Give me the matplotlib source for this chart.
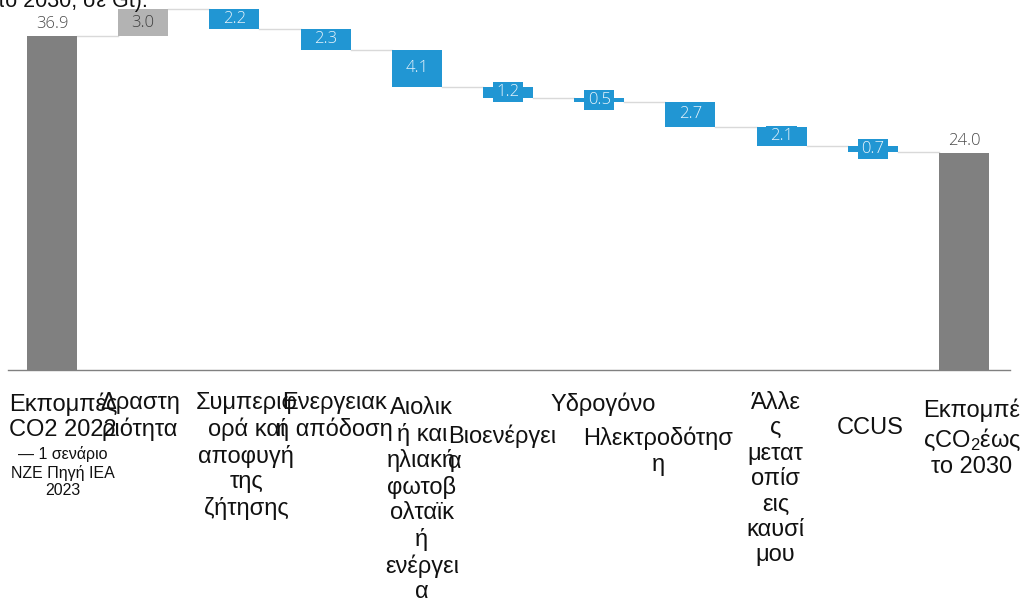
import matplotlib as mpl
import matplotlib.pyplot as plt
from matplotlib.patches import Rectangle
import numpy as np

mpl.rcParams.update({
    "font.family": ["Liberation Sans", "DejaVu Sans"],
    "mathtext.fontset": "custom",
    "mathtext.rm": "Liberation Sans",
    "mathtext.it": "Liberation Sans",
})

# waterfall data (Gt CO2)
labels = [
    "Εκπομπές\nCO2 2022", "Δραστη\nριότητα", "Συμπεριφ\nορά και\nαποφυγή\nτης\nζήτησης",
    "Ενεργειακ\nή απόδοση", "Αιολικ\nή και\nηλιακή\nφωτοβ\nολταϊκ\nή\nενέργει\nα",
    "Βιοενέργει\nα", "Υδρογόνο", "Ηλεκτροδότησ\nη",
    "Άλλε\nς\nμετατ\nοπίσ\nεις\nκαυσί\nμου", "CCUS", "Εκπομπέ\nςCO$_2$έως\nτο 2030",
]
start_value = 36.9
changes = [3.0, -2.2, -2.3, -4.1, -1.2, -0.5, -2.7, -2.1, -0.7]
end_value = 24.0
source_note = "— 1 σενάριο\nNZE Πηγή IEA\n2023"

# label layout: (x offset px, top offset px below baseline, multialignment)
label_layout = [(11, -22, "center"), (-3, -22, "center"), (12, -22, "center"),
                (9, -22, "center"), (5, -27, "center"), (-6, -54, "left"),
                (4, -22, "center"), (-32, -57, "center"), (-6, -22, "center"),
                (-3, -47, "center"), (8, -29, "center")]

BLUE = "#2196D3"
DARK = "#808080"
LIGHT = "#B3B3B3"

fig = plt.figure(figsize=(10.24, 6.10), dpi=100)
ax = fig.add_axes([8 / 1024, 240 / 610, 1002 / 1024, 370 / 610])
ax.set_xlim(-0.482, 10.505)
ax.set_ylim(0, 40.9)

n = len(labels)
x = np.arange(n)
w = 0.548
box_w, box_h = 0.33, 2.2   # label background for bars too thin to hold text
levels = np.concatenate([[start_value], start_value + np.cumsum(changes)])

# totals
ax.bar(x[0], start_value, w, color=DARK, zorder=2)
ax.bar(x[-1], end_value, w, color=DARK, zorder=2)
for xi, v in [(x[0], start_value), (x[-1], end_value)]:
    ax.annotate(f"{v:.1f}", (xi, v), xytext=(0, 4), textcoords="offset pixels",
                ha="center", va="bottom", fontsize=12, color="#4a4a4a",
                family="Open Sans", fontweight="light")

# steps
for i, d in enumerate(changes):
    xi = x[i + 1]
    lo = min(levels[i], levels[i + 1])
    col = LIGHT if d > 0 else BLUE
    ax.bar(xi, abs(d), w, bottom=lo, color=col, zorder=2)
    mid = lo + abs(d) / 2
    tcol = "#404040" if d > 0 else "#E6F3FB"
    if abs(d) < box_h:
        ax.add_patch(Rectangle((xi - box_w / 2, mid - box_h / 2), box_w, box_h,
                               fc=col, ec="none", zorder=2.5))
    ax.text(xi, mid, f"{abs(d):.1f}", ha="center", va="center",
            fontsize=12, color=tcol, family="Open Sans",
            fontweight="light", zorder=3)

# connectors
for i in range(n - 1):
    ax.plot([x[i] + w / 2, x[i + 1] - w / 2], [levels[i], levels[i]],
            color="#D9D9D9", lw=1, zorder=1)

for s in ["top", "right", "left"]:
    ax.spines[s].set_visible(False)
ax.spines["bottom"].set_color("#808080")
ax.spines["bottom"].set_linewidth(1)
ax.set_xticks([])
ax.set_yticks([])

for i, (lab, (dx, dy, ma)) in enumerate(zip(labels, label_layout)):
    ax.annotate(lab, (x[i], 0), xycoords=("data", "data"), xytext=(dx, dy),
                textcoords="offset pixels", ha="center", va="top",
                multialignment=ma, fontsize=17, color="#111111",
                annotation_clip=False)
ax.annotate(source_note, (x[0], 0), xytext=(11, -76), textcoords="offset pixels",
            ha="center", va="top", fontsize=11.5, color="#111111",
            annotation_clip=False)

fig.text(148 / 1024, 1 - 7 / 610,
         "Μείωση εκπομπών CO2 ανά τεχνολογία (από το 2022 έως το 2030, σε Gt).",
         ha="right", va="baseline", fontsize=15.5, color="#111111")

fig.savefig("out.png", dpi=100)
